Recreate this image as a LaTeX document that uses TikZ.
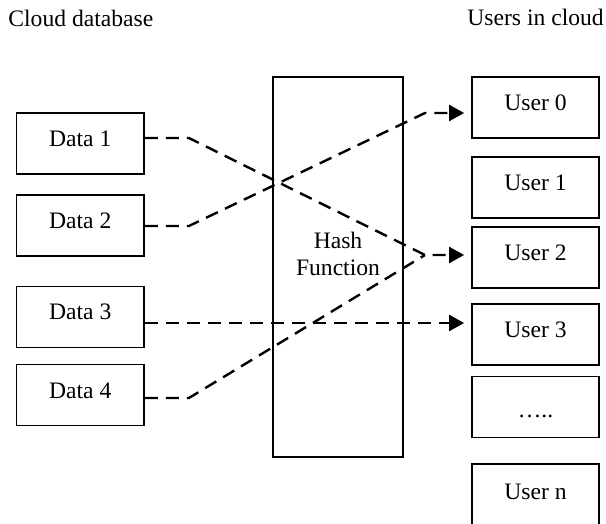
\documentclass[tikz,border=0pt]{standalone}
\usepackage{fontspec}
\setmainfont{Liberation Serif}
\usetikzlibrary{arrows.meta,calc}
\begin{document}
\begin{tikzpicture}[x=0.5pt,y=-0.5pt,
  every node/.style={font=\fontsize{11.8}{13.5}\selectfont},
  box/.style={draw, line width=0.9pt, inner sep=0pt, text height=7.8pt, text depth=4.8pt},
  databox/.style={box, minimum width=63.75pt, minimum height=30.5pt},
  userbox/.style={box, minimum width=63.5pt, minimum height=30.5pt},
  title/.style={inner sep=0pt, anchor=base west},
  link/.style={line width=1.2pt, dash pattern=on 6.5pt off 4pt},
  tip/.style={-{Triangle[length=7.5pt,width=8pt]}}
]
\useasboundingbox (0,0) rectangle (606,524);

\node[title] (t1) at (8,27) {Cloud database};
\node[title] (t2) at (467,26) {Users in cloud};

\node[databox] (d1) at (80.25,143.5) {Data 1};
\node[databox] (d2) at (80.25,225.5) {Data 2};
\node[databox] (d3) at (80.25,317) {Data 3};
\node[databox] (d4) at (80.25,395) {Data 4};

\node[draw, line width=0.9pt, minimum width=65pt, minimum height=190pt, inner sep=0pt,
      label={[align=center, yshift=6.5pt, font=\fontsize{11.8}{13.5}\selectfont]center:Hash\\Function}]
      (hash) at (338,267) {};

\node[userbox] (u0) at (535.5,107.5) {User 0};
\node[userbox] (u1) at (535.5,187.5) {User 1};
\node[userbox] (u2) at (535.5,257.5) {User 2};
\node[userbox] (u3) at (535.5,334.5) {User 3};
\node[userbox, text height=10pt, text depth=0pt] (ud) at (535.5,407) {…..};
\node[userbox, minimum height=31pt, text depth=3pt] (un) at (535.5,495) {User n};

\coordinate (m0) at (425,113);
\coordinate (m2) at (425,255);
\coordinate (s3) at ([yshift=-3pt]d3.east);

\draw[link, tip] ([yshift=2.75pt]d1.east) -- ++(44,0) -- (m2) -- ([xshift=-3.5pt]u2.west |- m2);
\draw[link, tip] ([yshift=-0.25pt]d2.east) -- ++(44,0) -- (m0) -- ([xshift=-3.5pt]u0.west |- m0);
\draw[link, tip] (s3) -- ([xshift=-3.5pt]u3.west |- s3);
\draw[link] ([yshift=-1.5pt]d4.east) -- ++(44,0) -- (m2);
\end{tikzpicture}
\end{document}
